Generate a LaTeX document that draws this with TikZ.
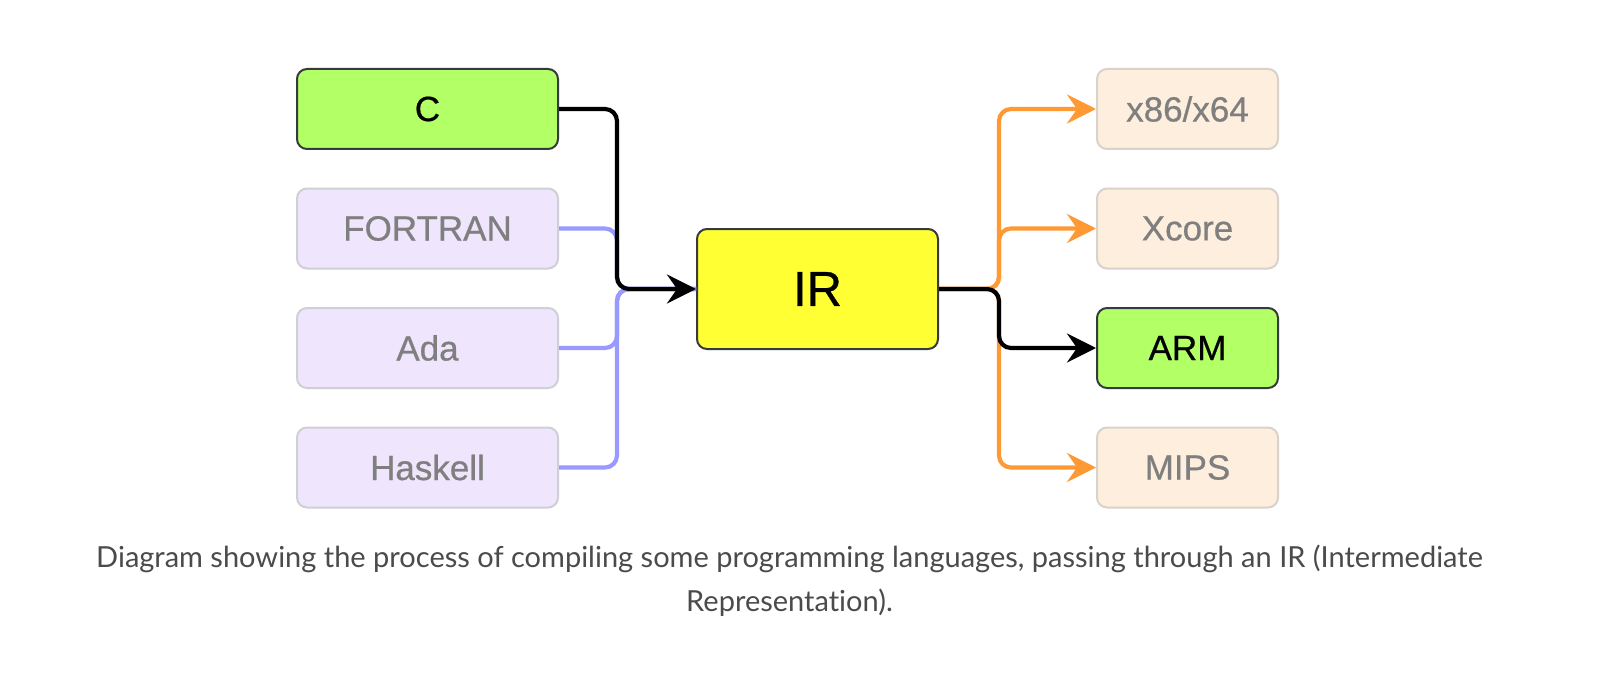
\documentclass[tikz,border=0pt]{standalone}
\usepackage{fontspec}
\setmainfont{Liberation Sans}[FakeBold=0.6]
\newfontfamily\capfont{Lato}[Ligatures=NoCommon]
\usetikzlibrary{arrows.meta}
\definecolor{gfill}{HTML}{B3FF66}
\definecolor{yfill}{HTML}{FFFF33}
\definecolor{lfill}{HTML}{EFE5FD}
\definecolor{ofill}{HTML}{FDEEDE}
\definecolor{dborder}{HTML}{36393D}
\definecolor{lborder}{HTML}{CFCFD6}
\definecolor{oborder}{HTML}{D9D2CB}
\definecolor{gtext}{HTML}{7F7F7F}
\definecolor{bline}{HTML}{9999FF}
\definecolor{oline}{HTML}{FF9933}
\definecolor{captext}{HTML}{4B4B4B}
\begin{document}
\begin{tikzpicture}[x=1pt,y=-1pt,
  box/.style={rounded corners=10pt, line width=2pt, inner sep=0pt,
    font=\fontsize{35}{42}\selectfont},
  srcbox/.style={box, minimum width=261pt, minimum height=80pt},
  tgtbox/.style={box, minimum width=181pt, minimum height=80pt},
  hot/.style={fill=gfill, draw=dborder, text=black},
  plain/.style={fill=lfill, draw=lborder, text=gtext},
  tplain/.style={fill=ofill, draw=oborder, text=gtext},
  irbox/.style={box, fill=yfill, draw=dborder, minimum width=241pt, minimum height=120pt,
    font=\fontsize{49}{58}\selectfont},
  conn/.style={line width=4.2pt, rounded corners=12pt},
  tip/.style={-{Stealth[length=29pt,width=29pt,inset=10pt]}},
  blueconn/.style={conn, draw=bline},
  orangeconn/.style={conn, draw=oline, tip},
  blackconn/.style={conn, draw=black, tip},
  captxt/.style={font=\capfont\fontsize{29}{44}\selectfont, text=captext, inner sep=0pt, anchor=base},
]
\useasboundingbox (0,0) rectangle (1622,690);
\fill[white] (0,0) rectangle (1622,690);

\node[srcbox, hot]   (c)  at (427.5,109) {C};
\node[srcbox, plain] (fo) at (427.5,228.5) {FORTRAN};
\node[srcbox, plain] (ada) at (427.5,348) {Ada};
\node[srcbox, plain] (hs) at (427.5,467.5) {Haskell};

\node[irbox] (ir) at (817.5,289) {IR};

\node[tgtbox, tplain] (x86) at (1187.5,109) {x86/x64};
\node[tgtbox, tplain] (xc)  at (1187.5,228.5) {Xcore};
\node[tgtbox, hot]    (arm) at (1187.5,348) {ARM};
\node[tgtbox, tplain] (mips) at (1187.5,467.5) {MIPS};

\coordinate (jl) at (617,289);
\coordinate (jr) at (999,289);

\draw[blueconn] (fo.east) -| (jl) -- (ir.west);
\draw[blueconn] (ada.east) -| (jl) -- (ir.west);
\draw[blueconn] (hs.east) -| (jl) -- (ir.west);
\draw[blackconn] (c.east) -| (jl) -- (ir.west);

\draw[orangeconn] (ir.east) -- (jr) |- (x86.west);
\draw[orangeconn] (ir.east) -- (jr) |- (xc.west);
\draw[orangeconn] (ir.east) -- (jr) |- (mips.west);
\draw[blackconn] (ir.east) -- (jr) |- (arm.west);

\node[captxt] (cap1) at (789.5,567) {Diagram showing the process of compiling some programming languages, passing through an IR (Intermediate};
\node[captxt] (cap2) at (789.5,611) {Representation).};
\end{tikzpicture}
\end{document}
